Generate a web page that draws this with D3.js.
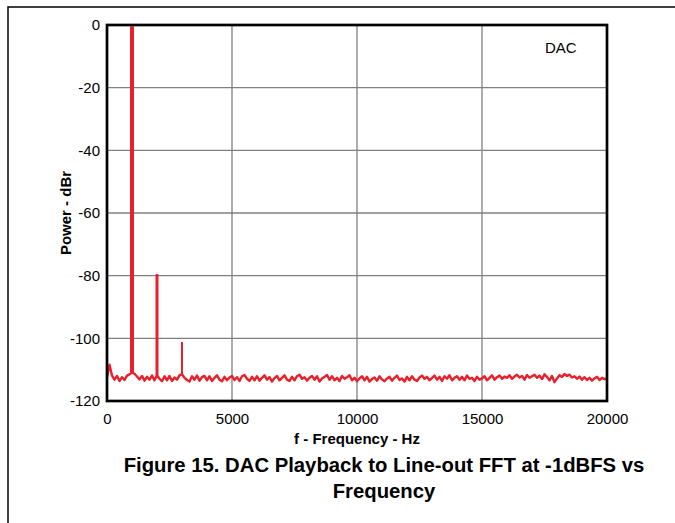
<!DOCTYPE html>
<html>
<head>
<meta charset="utf-8">
<script src="https://cdn.jsdelivr.net/npm/d3@7"></script>
<style>
  body { margin: 0; background: #fff; }
  svg { display: block; font-family: "Liberation Sans", Arial, sans-serif; }
</style>
</head>
<body>
<svg id="fft"></svg>
<script>
// noise floor, one value per 100 Hz from 0 to 20000 Hz (dBr)
const floorStep = 100;
const floorDb = [
  -112.3, -108.4, -111.9, -113.2, -112.0, -113.6, -112.4, -113.3, -111.9, -111.5,
  -110.9, -111.3, -112.2, -113.1, -112.0, -113.5, -112.3, -113.2, -111.9, -113.4,
  -111.8, -112.9, -113.7, -112.1, -113.4, -112.0, -113.6, -112.5, -113.2, -111.8,
  -111.4, -112.6, -113.3, -113.8, -112.1, -113.2, -111.9, -113.5, -112.4, -112.0,
  -113.4, -112.1, -113.6, -112.6, -111.8, -113.2, -113.7, -112.3, -113.4, -112.5,
  -112.0, -113.3, -112.4, -113.6, -112.1, -111.7, -112.9, -113.6, -112.3, -113.4,
  -112.1, -113.5, -112.6, -111.8, -113.2, -112.4, -113.8, -112.7, -112.0, -113.4,
  -112.6, -111.8, -113.2, -113.6, -112.3, -113.4, -112.1, -111.6, -112.9, -112.4,
  -113.5, -112.6, -112.0, -113.2, -112.1, -113.8, -112.8, -112.3, -111.7, -113.2,
  -112.1, -113.4, -112.6, -113.6, -112.0, -112.9, -112.4, -111.8, -113.4, -112.6,
  -113.7, -112.8, -112.1, -113.4, -112.3, -113.8, -113.0, -112.5, -113.5, -112.1,
  -113.1, -113.7, -112.8, -112.3, -113.5, -112.6, -111.9, -113.3, -112.8, -113.8,
  -112.3, -113.4, -112.1, -113.2, -113.6, -112.5, -111.9, -112.9, -112.3, -113.4,
  -112.6, -111.9, -113.2, -112.3, -113.6, -112.1, -112.9, -111.8, -113.4, -112.6,
  -112.1, -113.2, -112.3, -113.4, -111.9, -112.9, -112.6, -113.6, -112.3, -113.2,
  -112.8, -112.1, -113.4, -112.6, -111.8, -113.2, -112.4, -111.9, -112.9, -112.2,
  -112.6, -111.8, -112.9, -112.2, -111.6, -112.5, -112.0, -113.2, -111.7, -112.6,
  -112.1, -111.6, -112.6, -111.9, -113.0, -111.5, -112.3, -113.4, -112.0, -114.0,
  -112.8, -111.8, -112.3, -111.4, -112.0, -111.6, -112.5, -112.1, -112.9, -112.2,
  -113.2, -112.4, -113.3, -112.6, -113.5, -112.8, -112.3, -113.3, -112.6, -113.0,
  -112.8
];

// fundamental and harmonics
const spikeFreq = [1000, 2000, 3000];
const spikeDb = [-0.4, -79.5, -101.2];
const spikeWidth = [4, 3, 2];

const xTicks = [0, 5000, 10000, 15000, 20000];
const yTicks = [0, -20, -40, -60, -80, -100, -120];

const width = 675, height = 523;
const marginLeft = 107, marginRight = 68, marginTop = 25, marginBottom = 122;
const red = "#e8202b";

const svg = d3.select("#fft")
    .attr("width", width)
    .attr("height", height)
    .attr("viewBox", [0, 0, width, height]);

const x = d3.scaleLinear([0, 20000], [marginLeft, width - marginRight]);
const y = d3.scaleLinear([-120, 0], [height - marginBottom, marginTop]);

// page frame
svg.append("path")
    .attr("d", `M8,${height} V7 H${width}`)
    .attr("fill", "none")
    .attr("stroke", "#000")
    .attr("stroke-width", 1.5);

// grid
svg.append("g")
    .attr("stroke", "#808080")
    .attr("stroke-width", 1.3)
  .call(g => g.selectAll(".vx")
    .data(xTicks.slice(1, -1))
    .join("line")
      .attr("x1", d => x(d)).attr("x2", d => x(d))
      .attr("y1", y(0)).attr("y2", y(-120)))
  .call(g => g.selectAll(".hy")
    .data(yTicks.slice(1, -1))
    .join("line")
      .attr("class", "hy")
      .attr("x1", x(0)).attr("x2", x(20000))
      .attr("y1", d => y(d)).attr("y2", d => y(d)));

// axes (labels only), plain hyphen for negatives like the original
svg.append("g")
    .attr("transform", `translate(0,${y(-120)})`)
    .call(d3.axisBottom(x).tickValues(xTicks).tickSize(0).tickPadding(12).tickFormat(d => String(d)))
    .call(g => g.select(".domain").remove())
    .call(g => g.selectAll("text")
        .attr("font-size", 15)
        .attr("font-family", "'Liberation Sans', Arial, sans-serif")
        .attr("fill", "#000"));

svg.append("g")
    .attr("transform", `translate(${x(0)},0)`)
    .call(d3.axisLeft(y).tickValues(yTicks).tickSize(0).tickPadding(7).tickFormat(d => String(d)))
    .call(g => g.select(".domain").remove())
    .call(g => g.selectAll("text")
        .attr("font-size", 15)
        .attr("font-family", "'Liberation Sans', Arial, sans-serif")
        .attr("fill", "#000"));

// noise floor trace
const line = d3.line()
    .x((d, i) => x(i * floorStep))
    .y(d => y(d));

svg.append("path")
    .datum(floorDb)
    .attr("fill", "none")
    .attr("stroke", red)
    .attr("stroke-width", 2.4)
    .attr("stroke-linejoin", "round")
    .attr("d", line);

// spikes
svg.append("g")
  .selectAll("line")
  .data(spikeFreq)
  .join("line")
    .attr("x1", d => x(d)).attr("x2", d => x(d))
    .attr("y1", d => y(floorDb[d / floorStep]))
    .attr("y2", (d, i) => y(spikeDb[i]))
    .attr("stroke", red)
    .attr("stroke-width", (d, i) => spikeWidth[i]);

// plot border
svg.append("rect")
    .attr("x", x(0)).attr("y", y(0))
    .attr("width", x(20000) - x(0))
    .attr("height", y(-120) - y(0))
    .attr("fill", "none")
    .attr("stroke", "#000")
    .attr("stroke-width", 2.7);

svg.append("text")
    .attr("x", 545).attr("y", 53)
    .attr("font-size", 15)
    .text("DAC");

// axis titles
svg.append("text")
    .attr("x", (x(0) + x(20000)) / 2)
    .attr("y", 444)
    .attr("text-anchor", "middle")
    .attr("font-size", 15)
    .attr("font-weight", "bold")
    .text("f - Frequency - Hz");

svg.append("text")
    .attr("transform", `translate(71,${(y(0) + y(-120)) / 2}) rotate(-90)`)
    .attr("text-anchor", "middle")
    .attr("font-size", 15)
    .attr("font-weight", "bold")
    .text("Power - dBr");

// caption
svg.append("text")
    .attr("x", 384)
    .attr("y", 472)
    .attr("text-anchor", "middle")
    .attr("font-size", 20.3)
    .attr("font-weight", "bold")
    .text("Figure 15. DAC Playback to Line-out FFT at -1dBFS vs");

svg.append("text")
    .attr("x", 384)
    .attr("y", 498)
    .attr("text-anchor", "middle")
    .attr("font-size", 20.3)
    .attr("font-weight", "bold")
    .text("Frequency");
</script>
</body>
</html>
